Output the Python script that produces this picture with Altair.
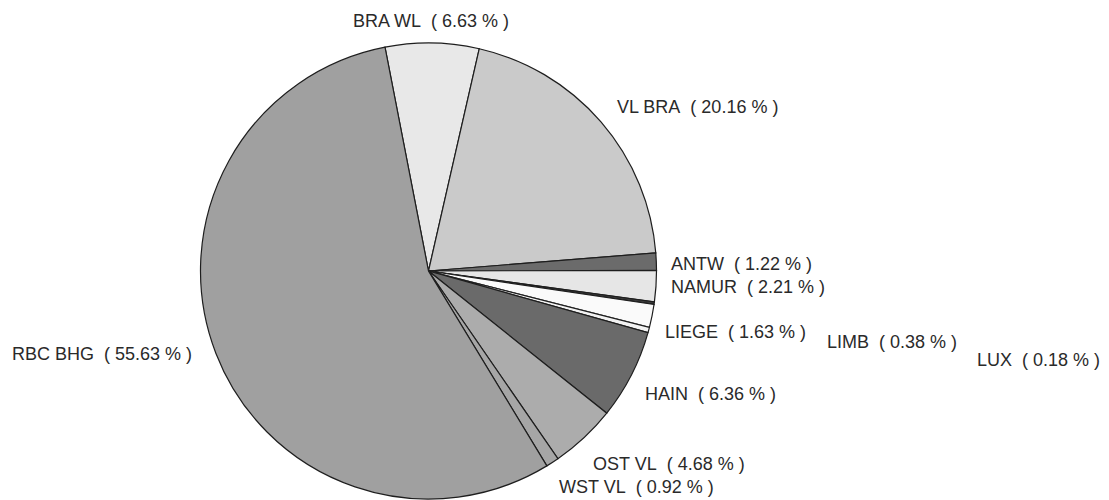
import math
import altair as alt
import pandas as pd

# ---- data ----
regions = ["BRA WL", "VL BRA", "ANTW", "NAMUR", "LUX", "LIEGE", "LIMB",
           "HAIN", "OST VL", "WST VL", "RBC BHG"]
shares = [6.63, 20.16, 1.22, 2.21, 0.18, 1.63, 0.38, 6.36, 4.68, 0.92, 55.63]

# ---- styles ----
fills = ["#e8e8e8", "#cacaca", "#6b6b6b", "#e6e6e6", "#3c3c3c", "#fafafa",
         "#f2f2f2", "#6a6a6a", "#acacac", "#a6a6a6", "#a0a0a0"]

# ---- layout (page pixels, converted to plot coords below) ----
M = 8
CX, CY, R = 428.5, 271, 228
START_DEG = -11.0
label_pos = {
    "BRA WL": (353, 22), "VL BRA": (617, 108), "ANTW": (671, 265),
    "NAMUR": (671, 288), "LIEGE": (665, 333), "LIMB": (827, 343),
    "LUX": (977, 361), "HAIN": (645, 395), "OST VL": (593, 465),
    "WST VL": (559, 488), "RBC BHG": (12, 355),
}

NB = "\u00a0"
df = pd.DataFrame({
    "region": regions,
    "share": shares,
    "fill": fills,
    "idx": list(range(len(regions))),
})
df["label"] = [f"{n}{NB}{NB}({NB}{v:.2f}{NB}%{NB})" for n, v in zip(regions, shares)]
df["lx"] = [label_pos[n][0] - M for n in regions]
df["ly"] = [label_pos[n][1] - M for n in regions]

start = math.radians(START_DEG)

pie = alt.Chart(df).mark_arc(
    radius=R, stroke="#1e1e1e", strokeWidth=1.2
).encode(
    theta=alt.Theta("share:Q", stack=True,
                    scale=alt.Scale(range=[start, start + 2 * math.pi])),
    order=alt.Order("idx:Q"),
    color=alt.Color("fill:N", scale=None),
    x=alt.value(CX - M),
    y=alt.value(CY - M),
)

labels = alt.Chart(df).mark_text(
    align="left", baseline="middle", font="Liberation Sans",
    fontSize=18, color="#2a2a2a"
).encode(
    x=alt.X("lx:Q", scale=None),
    y=alt.Y("ly:Q", scale=None),
    text="label:N",
)

chart = alt.layer(pie, labels).properties(
    width=1093, height=492, padding=0,
    autosize=alt.AutoSizeParams(type="none"),
    view=alt.ViewBackground(strokeOpacity=0, strokeWidth=0),
).configure_view(strokeWidth=0, strokeOpacity=0).configure(background="white")

chart.save("out.html", embed_options={"renderer": "svg", "actions": False})
